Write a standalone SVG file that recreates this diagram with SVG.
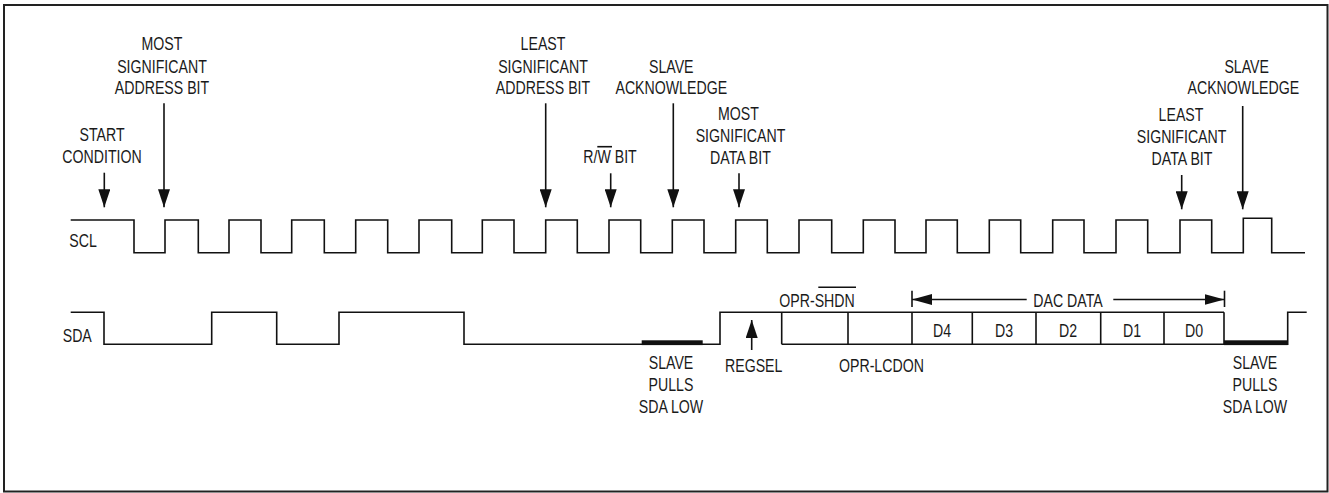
<svg xmlns="http://www.w3.org/2000/svg" width="1329" height="493" viewBox="0 0 1329 493">
<defs>
<style>
.w{fill:none;stroke:#111;stroke-width:1.6;stroke-linejoin:miter}
.t{font-family:"Liberation Sans",Arial,sans-serif;font-size:17.7px;fill:#1a1a1a}
.m{text-anchor:middle}
.a{stroke:#111;stroke-width:1.6;fill:none}
.bar{fill:#111}
</style>
<marker id="ah" markerUnits="userSpaceOnUse" markerWidth="18" markerHeight="12" refX="18" refY="6" orient="auto" viewBox="0 0 18 12">
<path d="M0,0 L18,6 L0,12 Z" fill="#111"/>
</marker>
<marker id="ahs" markerUnits="userSpaceOnUse" markerWidth="20" markerHeight="11" refX="20" refY="5.5" orient="auto" viewBox="0 0 20 11">
<path d="M0,0 L20,5.5 L0,11 Z" fill="#111"/>
</marker>
</defs>
<rect x="4" y="5" width="1323.5" height="486.5" fill="#fff" stroke="#222" stroke-width="2"/>

<g id="scl">
<path class="w" d="M70.7,220 H134 V252.7 H165 V220 H198.3 V252.7 H229 V220 H261 V252.7 H291.7 V220 H324.3 V252.7 H355.7 V220 H387.7 V252.7 H419 V220 H451.7 V252.7 H482.3 V220 H514 V252.7 H545.7 V220 H577.3 V252.7 H609 V220 H640.7 V252.7 H672.3 V220 H704 V252.7 H735.7 V220 H767.3 V252.7 H799 V220 H831.7 V252.7 H863.3 V220 H895 V252.7 H926 V220 H957.3 V252.7 H989.3 V220 H1020.7 V252.7 H1052.7 V220 H1084 V252.7 H1116 V220 H1147.7 V252.7 H1180 V220 H1211.7 V252.7 H1243.3 V218.3 H1271.7 V252.7 H1305"/>
</g>

<g id="sda">
<path class="w" d="M70.7,312.3 H104 V344.3 H211.7 V312.3 H276.7 V344.3 H339 V312.3 H464 V344.3 H720 V312.3 H1224"/>
<path class="w" d="M781.7,344.3 H1224"/>
<path class="w" d="M781.7,312.3 V344.3 M848,312.3 V344.3 M912,312.3 V344.3 M972.3,312.3 V344.3 M1036,312.3 V344.3 M1100.7,312.3 V344.3 M1164,312.3 V344.3 M1224,312.3 V344.3"/>
<path class="w" d="M1224,344.3 H1287.7 V312.3 H1306.7"/>
<rect class="bar" x="641.7" y="340.3" width="61" height="4.8"/>
<rect class="bar" x="1224" y="340.3" width="63.7" height="4.8"/>
</g>

<g id="connectors">
<line class="a" x1="104.3" y1="172.7" x2="104.3" y2="207.3" marker-end="url(#ah)"/>
<line class="a" x1="164" y1="103.3" x2="164" y2="207.3" marker-end="url(#ah)"/>
<line class="a" x1="545.7" y1="103.3" x2="545.7" y2="207.3" marker-end="url(#ah)"/>
<line class="a" x1="610.7" y1="173.3" x2="610.7" y2="207.3" marker-end="url(#ah)"/>
<line class="a" x1="673.3" y1="103.3" x2="673.3" y2="207.3" marker-end="url(#ah)"/>
<line class="a" x1="739" y1="173.3" x2="739" y2="207.3" marker-end="url(#ah)"/>
<line class="a" x1="1181.7" y1="175" x2="1181.7" y2="209.3" marker-end="url(#ah)"/>
<line class="a" x1="1242.7" y1="106" x2="1242.7" y2="209.3" marker-end="url(#ah)"/>
<line class="a" x1="751.7" y1="350" x2="751.7" y2="320" marker-end="url(#ah)"/>
<line class="a" x1="912" y1="290.7" x2="912" y2="307"/>
<line class="a" x1="1224.5" y1="290.7" x2="1224.5" y2="307"/>
<line class="a" x1="1026.7" y1="299.5" x2="912" y2="299.5" marker-end="url(#ahs)"/>
<line class="a" x1="1113.3" y1="299.5" x2="1224.5" y2="299.5" marker-end="url(#ahs)"/>
</g>

<g id="labels">
<line class="a" x1="597.3" y1="146.7" x2="612" y2="146.7"/>
<line class="a" x1="818.3" y1="287.3" x2="856" y2="287.3"/>
<g transform="scale(0.8,1)">
<g id="lbl-start" class="t m"><text x="127.5" y="140.7">START</text><text x="127.5" y="162.7">CONDITION</text></g>
<g id="lbl-msb-addr" class="t m"><text x="202.5" y="50">MOST</text><text x="202.5" y="72.7">SIGNIFICANT</text><text x="202.5" y="94.3">ADDRESS BIT</text></g>
<g id="lbl-lsb-addr" class="t m"><text x="678.75" y="50">LEAST</text><text x="678.75" y="72.7">SIGNIFICANT</text><text x="678.75" y="94.3">ADDRESS BIT</text></g>
<g id="lbl-rw" class="t m"><text x="762.5" y="162.7">R/W BIT</text></g>
<g id="lbl-ack1" class="t m"><text x="839.1" y="72.7">SLAVE</text><text x="839.1" y="94.3">ACKNOWLEDGE</text></g>
<g id="lbl-msb-data" class="t m"><text x="923" y="120">MOST</text><text x="925.6" y="141.7">SIGNIFICANT</text><text x="925.6" y="164.3">DATA BIT</text></g>
<g id="lbl-lsb-data" class="t m"><text x="1476.25" y="120.7">LEAST</text><text x="1477" y="142.7">SIGNIFICANT</text><text x="1477.5" y="165">DATA BIT</text></g>
<g id="lbl-ack2" class="t m"><text x="1558.4" y="73.5">SLAVE</text><text x="1554.2" y="94.5">ACKNOWLEDGE</text></g>
<g id="lbl-scl" class="t"><text x="86.6" y="246.7">SCL</text></g>
<g id="lbl-sda" class="t"><text x="78.4" y="341.7">SDA</text></g>
<g id="lbl-shdn" class="t"><text x="974.1" y="307.3">OPR-SHDN</text></g>
<g id="lbl-regsel" class="t"><text x="906.25" y="371.7">REGSEL</text></g>
<g id="lbl-lcdon" class="t"><text x="1048.75" y="371.7">OPR-LCDON</text></g>
<g id="lbl-pull1" class="t m"><text x="838.75" y="369.3">SLAVE</text><text x="838.75" y="390.7">PULLS</text><text x="838.75" y="412.7">SDA LOW</text></g>
<g id="lbl-pull2" class="t m"><text x="1568.75" y="369.3">SLAVE</text><text x="1568.75" y="390.7">PULLS</text><text x="1568.75" y="412.7">SDA LOW</text></g>
<g id="lbl-dac" class="t m"><text x="1335" y="307.3">DAC DATA</text></g>
<g id="lbl-bits" class="t m"><text x="1177.5" y="336.7">D4</text><text x="1255" y="336.7">D3</text><text x="1335" y="336.7">D2</text><text x="1415" y="336.7">D1</text><text x="1492.5" y="336.7">D0</text></g>
</g>
</g>
</svg>
